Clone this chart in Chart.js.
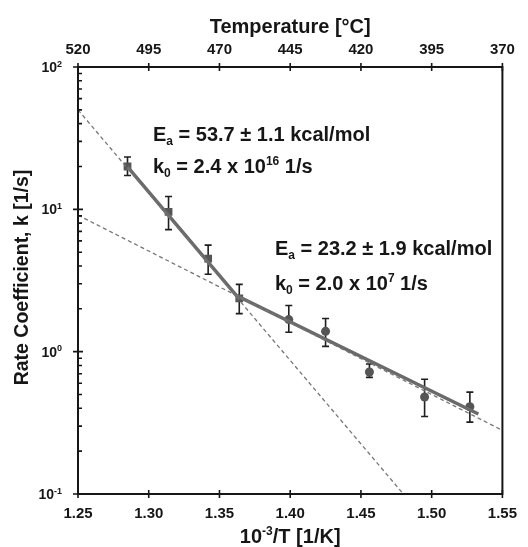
<!DOCTYPE html>
<html>
<head>
<meta charset="utf-8">
<script src="https://cdn.jsdelivr.net/npm/chart.js@4.4.1/dist/chart.umd.min.js"></script>
<style>
  html, body { margin: 0; padding: 0; background: #fff; }
  #wrap { width: 528px; height: 547px; }
</style>
</head>
<body>
<div id="wrap"><canvas id="arrhenius"></canvas></div>
<script>
// measured points (1000/T vs k)
const invT = [1.285, 1.314, 1.342, 1.364, 1.399, 1.425, 1.456, 1.495, 1.527];
const rateK = [20.0, 9.6, 4.5, 2.37, 1.68, 1.39, 0.72, 0.48, 0.41];
const rateHigh = [23.3, 12.3, 5.6, 2.97, 2.11, 1.71, 0.82, 0.64, 0.52];
const rateLow = [17.3, 7.2, 3.5, 1.85, 1.37, 1.09, 0.66, 0.35, 0.32];
const squareCount = 4; // first points drawn as squares, rest as circles

// solid fit (two regimes) and dashed extrapolations
const fitX = [1.285, 1.362, 1.533];
const fitK = [19.9, 2.48, 0.365];
const steepX = [1.25, 1.48];
const steepK = [50, 0.1];
const shallowX = [1.25, 1.55];
const shallowK = [9.1, 0.28];

const xTicks = [1.25, 1.30, 1.35, 1.40, 1.45, 1.50, 1.55];
const tempLabels = ['520', '495', '470', '445', '420', '395', '370'];
const decades = [-1, 0, 1, 2];

const FONT = '"Liberation Sans", Arial, sans-serif';
const INK = '#161616';

const pts = (xs, ys) => xs.map((x, i) => ({ x: x, y: ys[i] }));

// text with sub/superscript pieces: [text, mode]
function richText(ctx, parts, x, y, size, align) {
  const small = Math.round(size * 0.62);
  let widths = parts.map(p => {
    ctx.font = 'bold ' + (p[1] ? small : size) + 'px ' + FONT;
    return ctx.measureText(p[0]).width;
  });
  let total = widths.reduce((a, b) => a + b, 0);
  let cx = align === 'right' ? x - total : align === 'center' ? x - total / 2 : x;
  ctx.textAlign = 'left';
  ctx.textBaseline = 'alphabetic';
  parts.forEach((p, i) => {
    ctx.font = 'bold ' + (p[1] ? small : size) + 'px ' + FONT;
    let dy = p[1] === 'sub' ? size * 0.22 : p[1] === 'sup' ? -size * 0.38 : 0;
    ctx.fillText(p[0], cx, y + dy);
    cx += widths[i];
  });
}

const decorPlugin = {
  id: 'decor',
  beforeDatasetsDraw(chart) {
    const ctx = chart.ctx, xs = chart.scales.x, ys = chart.scales.y;
    ctx.save();
    ctx.strokeStyle = '#1e1e1e';
    ctx.lineWidth = 1.6;
    invT.forEach((t, i) => {
      const px = xs.getPixelForValue(t);
      const hi = ys.getPixelForValue(rateHigh[i]);
      const lo = ys.getPixelForValue(rateLow[i]);
      ctx.beginPath();
      ctx.moveTo(px, hi); ctx.lineTo(px, lo);
      ctx.moveTo(px - 3.5, hi); ctx.lineTo(px + 3.5, hi);
      ctx.moveTo(px - 3.5, lo); ctx.lineTo(px + 3.5, lo);
      ctx.stroke();
    });
    ctx.restore();
  },
  afterDraw(chart) {
    const ctx = chart.ctx, xs = chart.scales.x, ys = chart.scales.y;
    const a = chart.chartArea;
    ctx.save();
    ctx.strokeStyle = INK;
    ctx.fillStyle = INK;
    ctx.lineWidth = 2;
    ctx.strokeRect(a.left, a.top, a.right - a.left, a.bottom - a.top);

    ctx.lineWidth = 1.6;
    ctx.beginPath();
    xTicks.forEach(v => {
      const px = xs.getPixelForValue(v);
      ctx.moveTo(px, a.bottom - 4); ctx.lineTo(px, a.bottom + 4);
      ctx.moveTo(px, a.top - 4); ctx.lineTo(px, a.top + 4);
    });
    decades.forEach(d => {
      const py = ys.getPixelForValue(Math.pow(10, d));
      ctx.moveTo(a.left - 5, py); ctx.lineTo(a.left + 5, py);
      if (d < 2) {
        for (let m = 2; m <= 9; m++) {
          const my = ys.getPixelForValue(m * Math.pow(10, d));
          ctx.moveTo(a.left, my); ctx.lineTo(a.left + 4, my);
        }
      }
    });
    ctx.stroke();

    // y tick labels
    decades.forEach(d => {
      const py = ys.getPixelForValue(Math.pow(10, d));
      richText(ctx, [['10', null], [String(d), 'sup']], a.left - 16, py + 5, 14, 'right');
    });

    // axis titles
    ctx.font = 'bold 20px ' + FONT;
    ctx.textAlign = 'center';
    ctx.textBaseline = 'alphabetic';
    const midX = (a.left + a.right) / 2;
    ctx.fillText('Temperature [\u00b0C]', midX, 33);
    richText(ctx, [['10', null], ['-3', 'sup'], ['/T [1/K]', null]], midX, 543, 20, 'center');
    ctx.save();
    ctx.translate(28, (a.top + a.bottom) / 2 - 3);
    ctx.rotate(-Math.PI / 2);
    ctx.font = 'bold 19.5px ' + FONT;
    ctx.textAlign = 'center';
    ctx.fillText('Rate Coefficient, k [1/s]', 0, 0);
    ctx.restore();

    // fit annotations
    richText(ctx, [['E', null], ['a', 'sub'], [' = 53.7 \u00b1 1.1 kcal/mol', null]], 153, 141, 20, 'left');
    richText(ctx, [['k', null], ['0', 'sub'], [' = 2.4 x 10', null], ['16', 'sup'], [' 1/s', null]], 153, 173, 20, 'left');
    richText(ctx, [['E', null], ['a', 'sub'], [' = 23.2 \u00b1 1.9 kcal/mol', null]], 275, 255, 20, 'left');
    richText(ctx, [['k', null], ['0', 'sub'], [' = 2.0 x 10', null], ['7', 'sup'], [' 1/s', null]], 275, 290, 20, 'left');
    ctx.restore();
  }
};

const dashed = {
  type: 'line', showLine: true, pointRadius: 0, borderColor: '#767676',
  borderWidth: 1.3, borderDash: [4, 3], fill: false, tension: 0
};

new Chart(document.getElementById('arrhenius').getContext('2d'), {
  type: 'scatter',
  data: {
    datasets: [
      Object.assign({ label: 'steep', data: pts(steepX, steepK) }, dashed),
      Object.assign({ label: 'shallow', data: pts(shallowX, shallowK) }, dashed),
      {
        type: 'line', label: 'fit', data: pts(fitX, fitK), showLine: true,
        pointRadius: 0, borderColor: '#6a6a6a', borderWidth: 3.5, tension: 0
      },
      {
        label: 'low T', data: pts(invT, rateK).slice(0, squareCount),
        pointStyle: 'rect', pointRadius: 5.5, backgroundColor: '#555', borderColor: '#555', borderWidth: 0
      },
      {
        label: 'high T', data: pts(invT, rateK).slice(squareCount),
        pointStyle: 'circle', pointRadius: 4.5, backgroundColor: '#555', borderColor: '#555', borderWidth: 0
      }
    ]
  },
  options: {
    responsive: true,
    maintainAspectRatio: false,
    animation: false,
    layout: { padding: { left: 0, right: 22, top: 0, bottom: 0 } },
    plugins: { legend: { display: false }, tooltip: { enabled: false } },
    scales: {
      x: {
        type: 'linear', position: 'bottom', min: 1.25, max: 1.55,
        afterBuildTicks: s => { s.ticks = xTicks.map(v => ({ value: v })); },
        afterFit: s => { s.height = 53; },
        grid: { display: false, drawTicks: false }, border: { display: false },
        ticks: {
          padding: 11, color: INK, maxRotation: 0, autoSkip: false,
          font: { family: FONT, size: 15, weight: 'bold' },
          callback: v => v.toFixed(2)
        }
      },
      top: {
        type: 'linear', position: 'top', min: 1.25, max: 1.55,
        afterBuildTicks: s => { s.ticks = xTicks.map(v => ({ value: v })); },
        afterFit: s => { s.height = 67; },
        grid: { display: false, drawTicks: false }, border: { display: false },
        ticks: {
          padding: 8, color: INK, maxRotation: 0, autoSkip: false,
          font: { family: FONT, size: 15, weight: 'bold' },
          callback: (v, i) => tempLabels[i]
        }
      },
      y: {
        type: 'logarithmic', min: 0.1, max: 100,
        afterFit: s => { s.width = 78; },
        grid: { display: false }, border: { display: false },
        ticks: { display: false }
      }
    }
  },
  plugins: [decorPlugin]
});
</script>
</body>
</html>
